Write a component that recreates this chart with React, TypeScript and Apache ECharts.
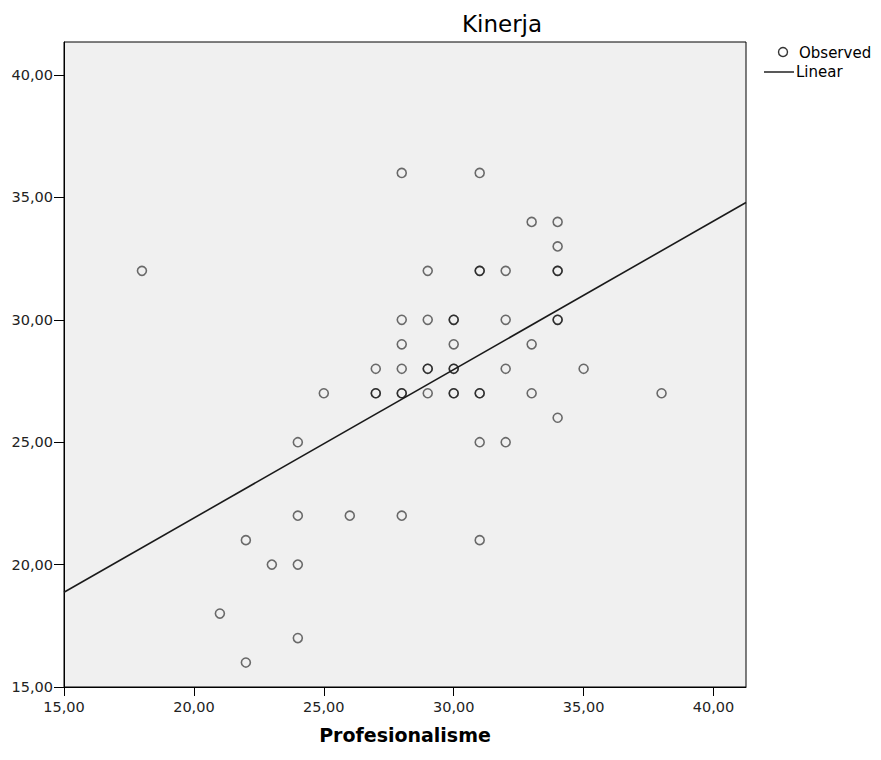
import React, { useEffect, useRef } from 'react';
import * as echarts from 'echarts';

// Observed data (Profesionalisme, Kinerja); duplicates appear as darker circles
const profesionalisme = [
  18, 21, 22, 22, 23, 24, 24, 24, 24, 25, 26, 27, 27, 27,
  28, 28, 28, 28, 28, 28, 28, 29, 29, 29, 29, 29,
  30, 30, 30, 30, 30, 30, 30, 31, 31, 31, 31, 31, 31, 31,
  32, 32, 32, 32, 33, 33, 33, 34, 34, 34, 34, 34, 34, 34, 35, 38,
];
const kinerja = [
  32, 18, 16, 21, 20, 25, 22, 20, 17, 27, 22, 28, 27, 27,
  36, 30, 29, 28, 27, 27, 22, 32, 30, 28, 28, 27,
  30, 30, 29, 28, 28, 27, 27, 36, 32, 32, 27, 27, 25, 21,
  32, 30, 28, 25, 34, 29, 27, 34, 33, 32, 32, 30, 30, 26, 28, 27,
];
const xTicks = [15, 20, 25, 30, 35, 40];
const yTicks = [15, 20, 25, 30, 35, 40];
const xRange = [15, 41.25];
const yRange = [15, 41.35];

const fmt = (v: number) => v.toFixed(2).replace('.', ',');

function fitLine(xs: number[], ys: number[]) {
  const n = xs.length;
  const mx = xs.reduce((a, b) => a + b, 0) / n;
  const my = ys.reduce((a, b) => a + b, 0) / n;
  let sxy = 0;
  let sxx = 0;
  for (let i = 0; i < n; i++) {
    sxy += (xs[i] - mx) * (ys[i] - my);
    sxx += (xs[i] - mx) * (xs[i] - mx);
  }
  const b = sxy / sxx;
  const a = my - b * mx;
  return (x: number) => a + b * x;
}

export default function App() {
  const ref = useRef<HTMLDivElement>(null);
  useEffect(() => {
    document.body.style.margin = '0';
    const chart = echarts.init(ref.current!, null, { renderer: 'svg' });
    const f = fitLine(profesionalisme, kinerja);
    const points = profesionalisme.map((x, i) => [x, kinerja[i]]);
    const font = "'DejaVu Sans', 'Liberation Sans', Arial, sans-serif";
    chart.setOption({
      animation: false,
      backgroundColor: '#ffffff',
      title: {
        text: 'Kinerja',
        left: 497,
        top: 7,
        textAlign: 'center',
        textStyle: { fontFamily: font, fontSize: 23, fontWeight: 'normal', color: '#000' },
      },
      grid: {
        left: 64,
        right: 135,
        top: 42,
        bottom: 73,
        show: true,
        backgroundColor: '#f0f0f0',
        borderColor: '#000',
        borderWidth: 1,
      },
      xAxis: {
        type: 'value',
        min: xRange[0],
        max: xRange[1],
        interval: 5,
        name: 'Profesionalisme',
        nameLocation: 'middle',
        nameGap: 38,
        nameTextStyle: { fontFamily: font, fontSize: 19, fontWeight: 'bold', color: '#000' },
        splitLine: { show: false },
        axisLine: { show: true, lineStyle: { color: '#000', width: 1 } },
        axisTick: { show: true, length: 9, lineStyle: { color: '#000' }, customValues: xTicks },
        axisLabel: {
          customValues: xTicks,
          formatter: (v: number) => fmt(v),
          fontFamily: font,
          fontSize: 14.5,
          color: '#222',
          margin: 12,
        },
      },
      yAxis: {
        type: 'value',
        min: yRange[0],
        max: yRange[1],
        interval: 5,
        splitLine: { show: false },
        axisLine: { show: true, lineStyle: { color: '#000', width: 1 } },
        axisTick: { show: true, length: 10, lineStyle: { color: '#000' }, customValues: yTicks },
        axisLabel: {
          customValues: yTicks,
          formatter: (v: number) => fmt(v),
          fontFamily: font,
          fontSize: 14.5,
          color: '#222',
          margin: 11,
        },
      },
      series: [
        {
          name: 'Observed',
          type: 'scatter',
          data: points,
          symbol: 'circle',
          symbolSize: 9,
          itemStyle: { color: 'rgba(0,0,0,0)', borderColor: 'rgba(0,0,0,0.7)', borderWidth: 1.6 },
          silent: true,
        },
        {
          name: 'Linear',
          type: 'line',
          data: [
            [xRange[0], f(xRange[0])],
            [xRange[1], f(xRange[1])],
          ],
          symbol: 'none',
          lineStyle: { color: '#1a1a1a', width: 1.6 },
          silent: true,
        },
      ],
      graphic: [
        {
          type: 'circle',
          shape: { cx: 783, cy: 52, r: 4.5 },
          style: { fill: 'none', stroke: '#333', lineWidth: 1.4 },
        },
        {
          type: 'text',
          x: 799,
          y: 53,
          style: { text: 'Observed', fill: '#000', font: `15px ${font}`, textVerticalAlign: 'middle' },
        },
        {
          type: 'line',
          shape: { x1: 764, y1: 72, x2: 794, y2: 72 },
          style: { stroke: '#222', lineWidth: 1.5 },
        },
        {
          type: 'text',
          x: 796,
          y: 72,
          style: { text: 'Linear', fill: '#000', font: `15px ${font}`, textVerticalAlign: 'middle' },
        },
      ],
    });
    return () => chart.dispose();
  }, []);
  return <div ref={ref} style={{ width: 881, height: 760 }} />;
}
